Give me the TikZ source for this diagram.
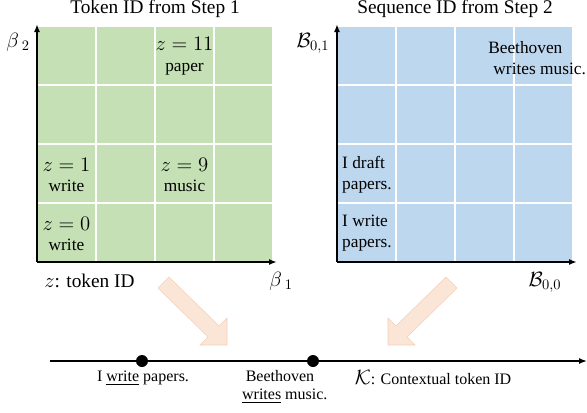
\RequirePackage{fix-cm}
\documentclass[tikz,border=0pt]{standalone}
\usepackage{amsmath}
\usepackage{amssymb}
\usepackage{fontspec}
\setmainfont{Liberation Serif}
\usetikzlibrary{arrows.meta}
\definecolor{gridgreen}{RGB}{197,224,180}
\definecolor{gridblue}{RGB}{189,215,238}
\definecolor{peach}{RGB}{251,229,214}
\definecolor{peachedge}{RGB}{242,208,186}
\newcommand{\zmath}[1]{{\fontsize{15.5}{15.5}\selectfont$#1$}}

\begin{document}
\begin{tikzpicture}[x=0.75pt,y=-0.75pt,
    title/.style={font=\fontsize{14.5}{17}\selectfont},
    cell/.style={font=\fontsize{13}{15.5}\selectfont,align=center},
    lab/.style={font=\fontsize{12}{13.5}\selectfont},
    axis/.style={line width=1.5pt,-{Latex[length=6pt,width=4.5pt]}},
    bigarrow/.style={fill=peach,draw=peachedge,line width=0.4pt}]
    \tikzstyle{every node}+=[inner sep=0pt]
    \useasboundingbox (0,0) rectangle (587,412);
    % left panel: token ID
    \fill [gridgreen] (37,26) rectangle (273,262);
    \fill [gridblue] (337,26) rectangle (573,262);
    \foreach \k in {0,...,4} {
        \draw [white,line width=0.8pt] (37+59*\k,26) -- (37+59*\k,262);
        \draw [white,line width=0.8pt] (37,26+59*\k) -- (273,26+59*\k);
        \draw [white,line width=0.8pt] (337+59*\k,26) -- (337+59*\k,262);
        \draw [white,line width=0.8pt] (337,26+59*\k) -- (573,26+59*\k);
    }
    \node [title] (t1) at (155,9) {Token ID from Step 1};
    \node [title] (t2) at (455,9) {Sequence ID from Step 2};
    \coordinate (o1) at (37,262);
    \coordinate (y1) at (37,24);
    \coordinate (x1) at (277,262);
    \draw [axis] (o1) -- (y1);
    \draw [axis] (o1) -- (x1);
    \node [cell] (c11) at (184.5,56) {\zmath{z = 11}\\paper};
    \node [cell] (c1) at (66.5,175) {\zmath{z = 1}\\write};
    \node [cell] (c9) at (184.5,175) {\zmath{z = 9}\\music};
    \node [cell] (c0) at (66.5,234) {\zmath{z = 0}\\write};
    \node [cell] (b2) at (18,42) {\zmath{\beta_{\;2}}};
    \node [cell] (b1) at (281,281) {\zmath{\beta_{\;1}}};
    \node [title,anchor=west] (zid) at (44,281) {\zmath{z}: token ID};
    % right panel: sequence ID
    \coordinate (o2) at (337,262);
    \coordinate (y2) at (337,24);
    \coordinate (x2) at (577,262);
    \draw [axis] (o2) -- (y2);
    \draw [axis] (o2) -- (x2);
    \node [cell,align=left,anchor=west] (s3) at (488,58) {Beethoven\\\hspace{0.3em}writes music.};
    \node [cell,align=left] (s1) at (367,175) {I draft\\papers.};
    \node [cell,align=left] (s0) at (367,233) {I write\\papers.};
    \node [cell] (b01) at (313,43) {\zmath{\mathcal{B}_{0,1}}};
    \node [cell] (b00) at (545,282) {\zmath{\mathcal{B}_{0,0}}};
    % arrows down to the line
    \fill [bigarrow] (158,288) -- (169,277) -- (219,326) -- (227,318) -- (227,345) -- (200,345) -- (208,337) -- cycle;
    \fill [bigarrow] (457,288) -- (446,277) -- (396,326) -- (388,318) -- (388,345) -- (415,345) -- (407,337) -- cycle;
    % contextual token ID line
    \coordinate (k0) at (50,361);
    \coordinate (k1) at (587,361);
    \draw [line width=1.1pt,-{Latex[length=6pt,width=4.5pt]}] (k0) -- (k1);
    \node [circle,fill=black,minimum size=9pt] (d1) at (142,361) {};
    \node [circle,fill=black,minimum size=9pt] (d2) at (313,361) {};
    \node [lab] (w1) at (143,378) {I \underline{write} papers.};
    \node [lab,align=center] (w2) at (280,387) {Beethoven\\\hspace{0.6em}\underline{writes} music.};
    \node [lab] (kid) at (433,378) {\zmath{\mathcal{K}}: Contextual token ID};
\end{tikzpicture}
\end{document}
